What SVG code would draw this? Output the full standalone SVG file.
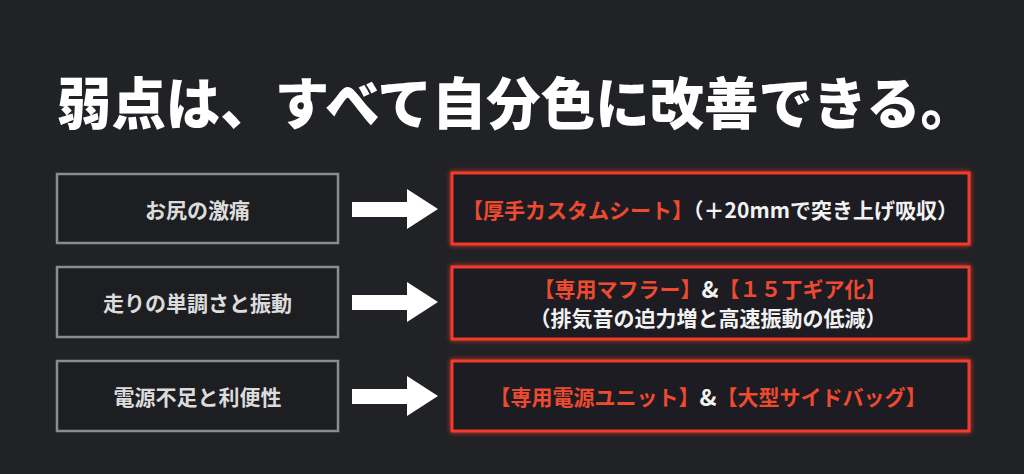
<svg xmlns="http://www.w3.org/2000/svg" width="1024" height="474" viewBox="0 0 1024 474">
<defs>
<style>
text{font-family:"Noto Sans CJK JP","Noto Sans CJK SC",sans-serif;font-weight:700;}
.title{font-size:56px;fill:#ffffff;font-weight:900;}
.lbox{fill:#1d1e21;stroke:#8c8c8c;stroke-width:2.5;}
.rbox{fill:#1d1d20;stroke:#f23b2a;stroke-width:3;filter:url(#glow);}
.ltxt{font-size:21px;fill:#dcdcdc;text-anchor:middle;dominant-baseline:central;}
.rtxt{font-size:21px;fill:#f2f2f2;text-anchor:middle;dominant-baseline:central;}
.red{fill:#ee4a30;}
.amp{font-size:23px;}
.arrow{fill:#ffffff;}
</style>
<filter id="glow" x="-10%" y="-30%" width="120%" height="160%">
<feGaussianBlur in="SourceGraphic" stdDeviation="2.5" result="b"/>
<feMerge><feMergeNode in="b"/><feMergeNode in="SourceGraphic"/></feMerge>
</filter>
</defs>
<rect x="0" y="0" width="1024" height="474" fill="#202226"/>
<text class="title" x="57" y="99" dominant-baseline="central" textLength="918" lengthAdjust="spacingAndGlyphs">弱点は、すべて自分色に改善できる。</text>

<g id="problem1"><rect class="lbox" x="57" y="174" width="281" height="69"/><text class="ltxt" x="197.5" y="208.5">お尻の激痛</text></g>
<g id="problem2"><rect class="lbox" x="57" y="267" width="281" height="70"/><text class="ltxt" x="197.5" y="302">走りの単調さと振動</text></g>
<g id="problem3"><rect class="lbox" x="57" y="361" width="281" height="70"/><text class="ltxt" x="197.5" y="396">電源不足と利便性</text></g>

<g id="solution1"><rect class="rbox" x="452" y="173" width="517" height="71"/><text class="rtxt" x="710" y="209"><tspan class="red">【厚手カスタムシート】</tspan>（＋20mmで突き上げ吸収）</text></g>
<g id="solution2"><rect class="rbox" x="452" y="267" width="517" height="72"/><text class="rtxt"><tspan x="710" y="287.5"><tspan class="red">【専用マフラー】</tspan><tspan class="amp">&amp;</tspan><tspan class="red">【１５丁ギア化】</tspan></tspan><tspan x="708" y="317">（排気音の迫力増と高速振動の低減）</tspan></text></g>
<g id="solution3"><rect class="rbox" x="452" y="361" width="517" height="70"/><text class="rtxt" x="708" y="396"><tspan class="red">【専用電源ユニット】</tspan><tspan class="amp">&amp;</tspan><tspan class="red">【大型サイドバッグ】</tspan></text></g>

<g id="connectors">
<polygon class="arrow" points="352,202 407,202 407,189 438,209 407,229 407,217 352,217"/>
<polygon class="arrow" points="352,295 407,295 407,282 438,302 407,322 407,310 352,310"/>
<polygon class="arrow" points="352,389 407,389 407,376 438,396 407,416 407,404 352,404"/>
</g>
</svg>
